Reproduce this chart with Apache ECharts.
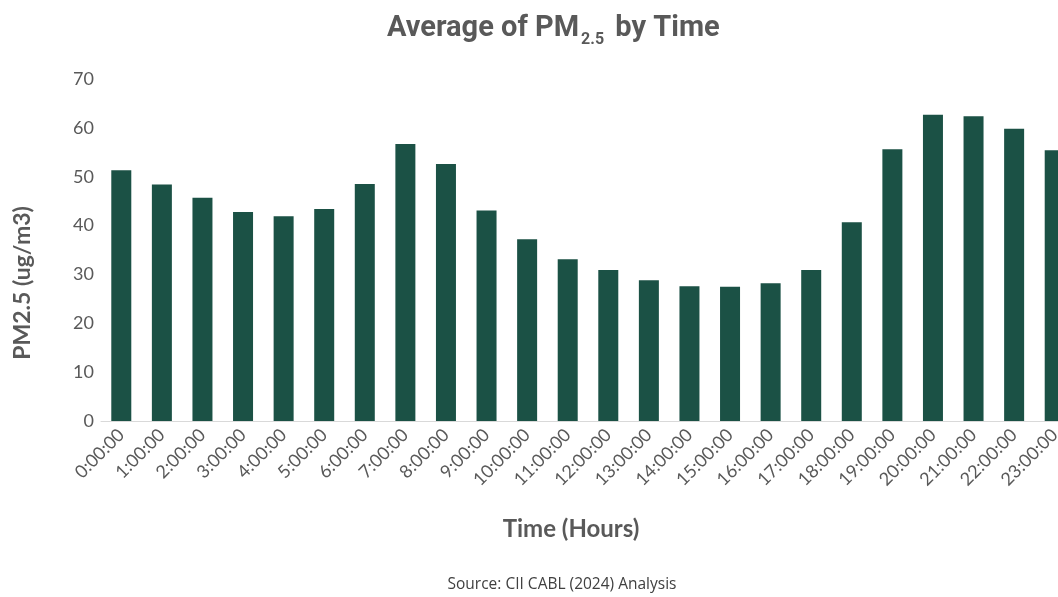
<!DOCTYPE html>
<html>
<head>
<meta charset="utf-8">
<script src="https://cdn.jsdelivr.net/npm/echarts@6/dist/echarts.min.js"></script>
<style>html,body{margin:0;padding:0;background:#fff}#c{width:1058px;height:597px}</style>
</head>
<body>
<div id="c"></div>
<script>
const categories = ['0:00:00','1:00:00','2:00:00','3:00:00','4:00:00','5:00:00','6:00:00','7:00:00','8:00:00','9:00:00','10:00:00','11:00:00','12:00:00','13:00:00','14:00:00','15:00:00','16:00:00','17:00:00','18:00:00','19:00:00','20:00:00','21:00:00','22:00:00','23:00:00'];
const pm25 = [51.3,48.4,45.7,42.8,41.9,43.4,48.5,56.7,52.6,43.1,37.2,33.1,30.9,28.8,27.6,27.5,28.2,30.9,40.7,55.6,62.7,62.4,59.8,55.4];
const yTicks = [0,10,20,30,40,50,60,70];

const chart = echarts.init(document.getElementById('c'));
const grey = '#595959';
chart.setOption({
  animation: false,
  backgroundColor: '#ffffff',
  title: {
    text: '{a|Average of PM}{s|2.5}{a| by Time}',
    left: 382, top: 5,
    textStyle: {
      rich: {
        a: {fontFamily: 'Roboto', fontWeight: 'bold', fontSize: 29, color: grey, height: 38, verticalAlign: 'bottom'},
        s: {fontFamily: 'Roboto', fontWeight: 'bold', fontSize: 16, color: grey, padding: [22, 4, 0, 2], verticalAlign: 'bottom'}
      }
    }
  },
  grid: {left: 101, top: 79, right: -17, height: 342, containLabel: false, outerBoundsMode: 'none'},
  xAxis: {
    type: 'category',
    data: categories,
    axisLine: {lineStyle: {color: '#d9d9d9', width: 1}},
    axisTick: {show: false},
    axisLabel: {rotate: 45, color: grey, fontFamily: 'Lato', fontSize: 18, margin: 11, interval: 0}
  },
  yAxis: {
    type: 'value',
    min: yTicks[0], max: yTicks[yTicks.length - 1], interval: 10,
    axisLine: {show: false},
    axisTick: {show: false},
    splitLine: {show: false},
    axisLabel: {color: grey, fontFamily: 'Lato', fontSize: 18, margin: 7}
  },
  series: [{
    type: 'bar',
    data: pm25,
    barWidth: 20,
    itemStyle: {color: '#1b5145'}
  }],
  graphic: [
    {type: 'text', x: 23, y: 283, rotation: Math.PI / 2,
      style: {text: 'PM2.5 (ug/m3)', fill: grey, font: 'bold 23px Lato', align: 'center', verticalAlign: 'middle'}},
    {type: 'text', x: 571, y: 529,
      style: {text: 'Time (Hours)', fill: grey, font: 'bold 24px Lato', align: 'center', verticalAlign: 'middle'}},
    {type: 'text', x: 562, y: 585,
      style: {text: 'Source: CII CABL (2024) Analysis', fill: '#404040', font: '15.5px "Open Sans"', align: 'center', verticalAlign: 'middle'}}
  ]
});
</script>
</body>
</html>
